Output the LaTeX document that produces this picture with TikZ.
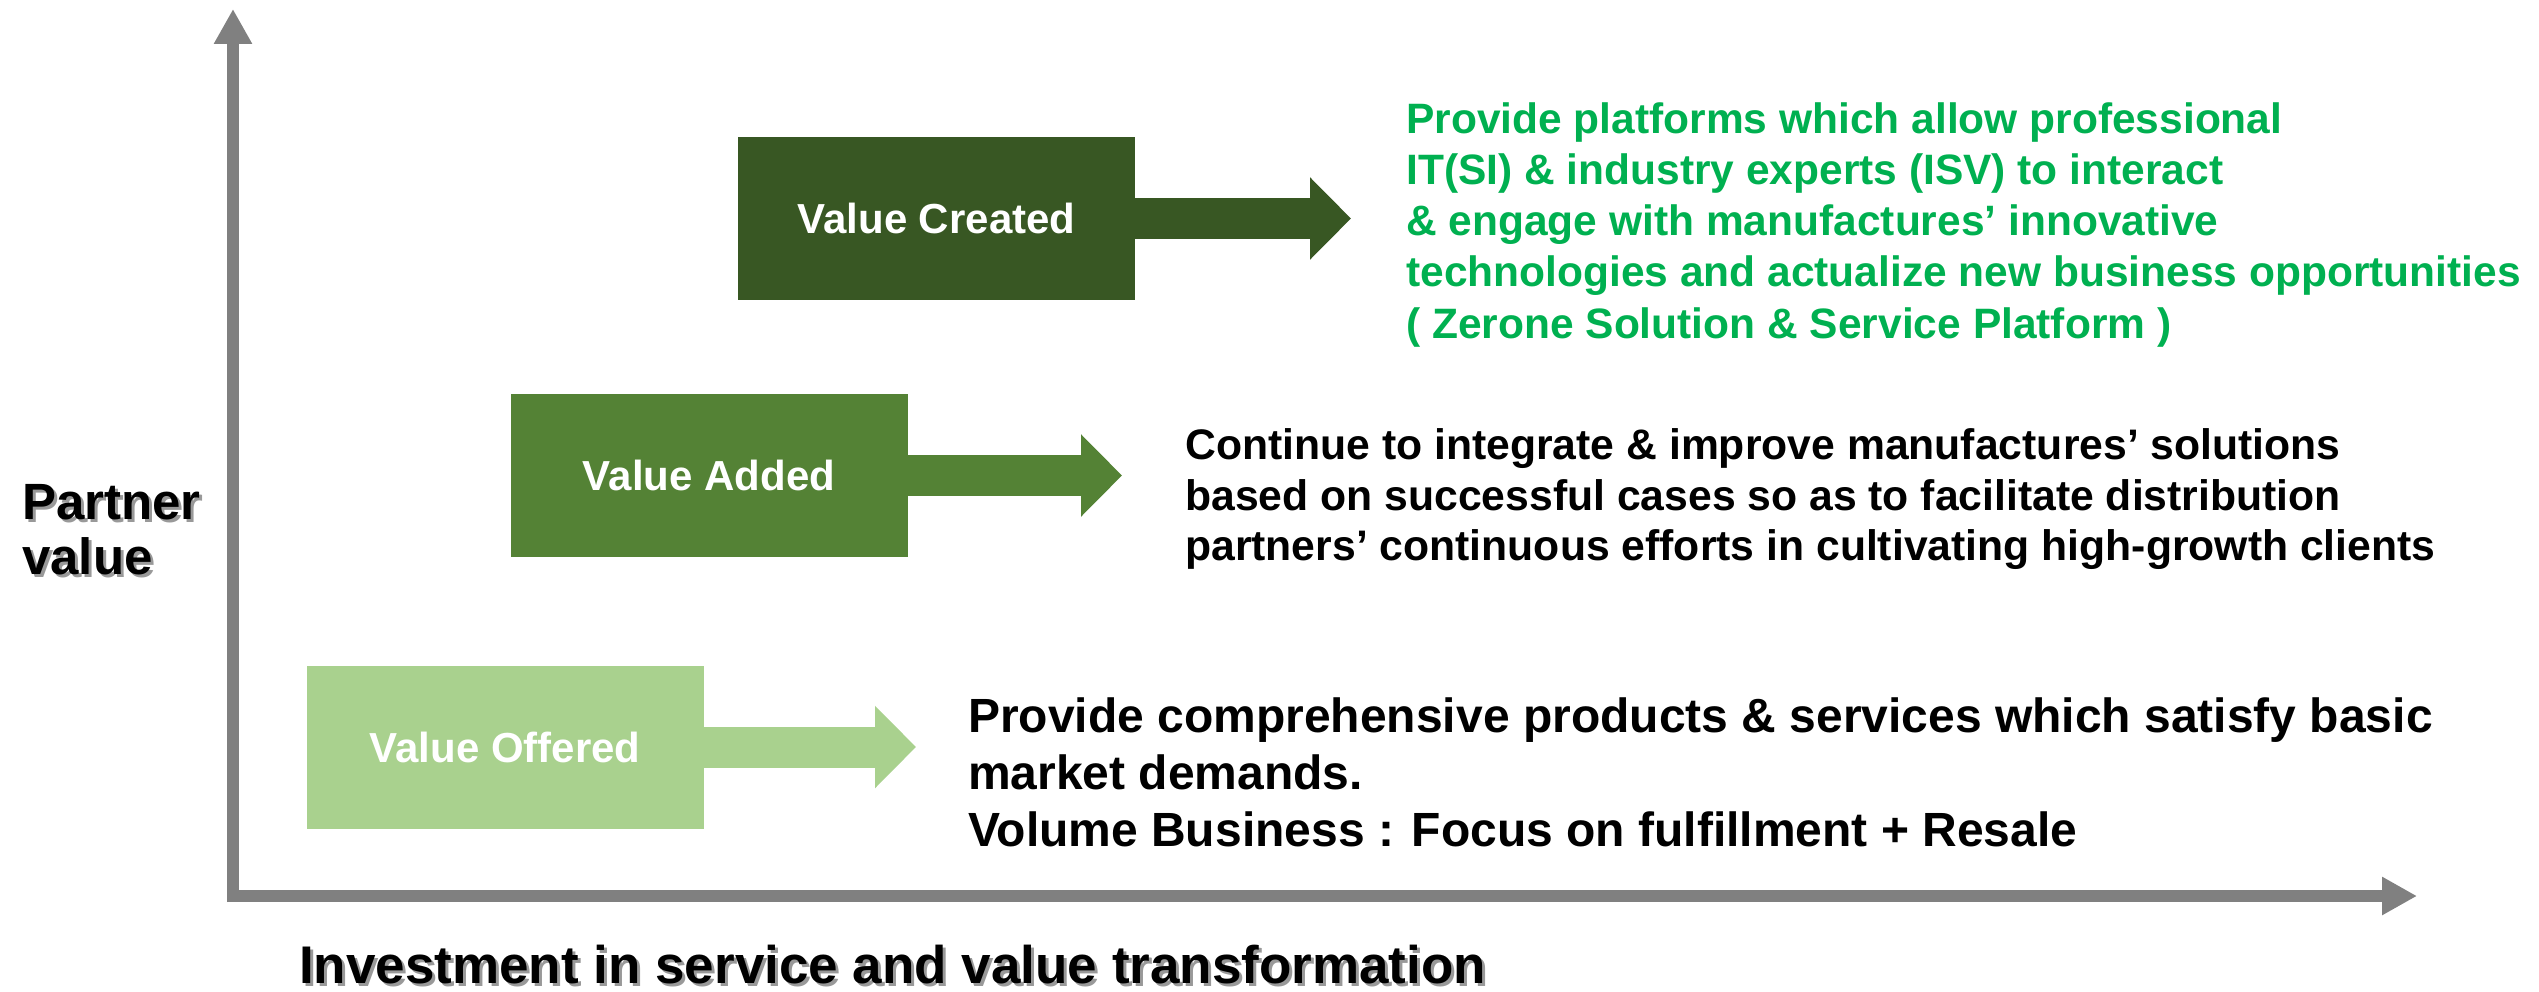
\documentclass[tikz,border=0pt]{standalone}
\usepackage{fontspec}
\setmainfont{Liberation Sans}
\usetikzlibrary{arrows.meta}
\definecolor{axisgray}{HTML}{808080}
\definecolor{gdark}{HTML}{385723}
\definecolor{gmid}{HTML}{548235}
\definecolor{glight}{HTML}{A9D18E}
\definecolor{gtext}{HTML}{00B050}
\begin{document}
\begin{tikzpicture}[x=1pt,y=-1pt,
  valbox/.style={rectangle, minimum width=397pt, minimum height=163pt, inner sep=0pt,
    text=white, font=\fontsize{42}{50}\selectfont\bfseries},
  blockarrow/.style={line width=41pt, -{Triangle[length=41pt,width=80pt]}},
  axisarrow/.style={axisgray, line width=12pt, -{Triangle[length=35pt,width=36pt]}},
  linetxt/.style={anchor=base west, inner sep=0pt},
  greentxt/.style={linetxt, text=gtext, font=\fontsize{42.5}{51}\selectfont\bfseries},
  midtxt/.style={linetxt, text=black, font=\fontsize{42.7}{50}\selectfont\bfseries},
  lowtxt/.style={linetxt, text=black, font=\fontsize{48}{56}\selectfont\bfseries},
  shadowlbl/.style={linetxt, text=black!40, text depth=0pt},
  axlbl/.style={linetxt, text=black, text depth=0pt}
]
\useasboundingbox (0,0) rectangle (2539,992);

% axes
\coordinate (ybot) at (233,902);
\coordinate (ytop) at (233,9);
\coordinate (xleft) at (227,896);
\coordinate (xend) at (2417,896);
\draw[axisarrow] (ybot) -- (ytop);
\draw[axisarrow] (xleft) -- (xend);

% boxes
\node[valbox, fill=glight] (offered) at (505,747) {Value Offered};
\node[valbox, fill=gmid] (added) at (709,475.5) {Value Added};
\node[valbox, fill=gdark] (created) at (936.5,218.5) {Value Created};

\coordinate (offtip) at (916,747);
\coordinate (addtip) at (1122,475.5);
\coordinate (cretip) at (1351,218.5);
\draw[blockarrow, glight] (offered.east) -- (offtip);
\draw[blockarrow, gmid] (added.east) -- (addtip);
\draw[blockarrow, gdark] (created.east) -- (cretip);

% green text
\node[greentxt] (g1) at (1406,134) {Provide platforms which allow professional};
\node[greentxt] (g2) at (1406,185) {IT(SI) \& industry experts (ISV) to interact};
\node[greentxt] (g3) at (1406,236) {\& engage with manufactures’ innovative};
\node[greentxt] (g4) at (1406,287) {technologies and actualize new business opportunities};
\node[greentxt] (g5) at (1406,338) {( Zerone Solution \& Service Platform )};

% middle text
\node[midtxt] (m1) at (1185,459) {Continue to integrate \& improve manufactures’ solutions};
\node[midtxt] (m2) at (1185,510) {based on successful cases so as to facilitate distribution};
\node[midtxt] (m3) at (1185,560) {partners’ continuous efforts in cultivating high-growth clients};

% lower text
\node[lowtxt] (l1) at (968,732) {Provide comprehensive products \& services which satisfy basic};
\node[lowtxt] (l2) at (968,789) {market demands.};
\node[lowtxt] (l3) at (968,846) {Volume Business : Focus on fulfillment + Resale};

% axis labels with shadow
\node[shadowlbl, font=\fontsize{51}{58}\selectfont\bfseries] (pvs1) at (25,522) {Partner};
\node[shadowlbl, font=\fontsize{51}{58}\selectfont\bfseries] (pvs2) at (25,577) {value};
\node[axlbl, font=\fontsize{51}{58}\selectfont\bfseries] (pv1) at (22,519) {Partner};
\node[axlbl, font=\fontsize{51}{58}\selectfont\bfseries] (pv2) at (22,574) {value};

\node[shadowlbl, font=\fontsize{53}{60}\selectfont\bfseries] (invs) at (302,986) {Investment in service and value transformation};
\node[axlbl, font=\fontsize{53}{60}\selectfont\bfseries] (inv) at (299,983) {Investment in service and value transformation};
\end{tikzpicture}
\end{document}
